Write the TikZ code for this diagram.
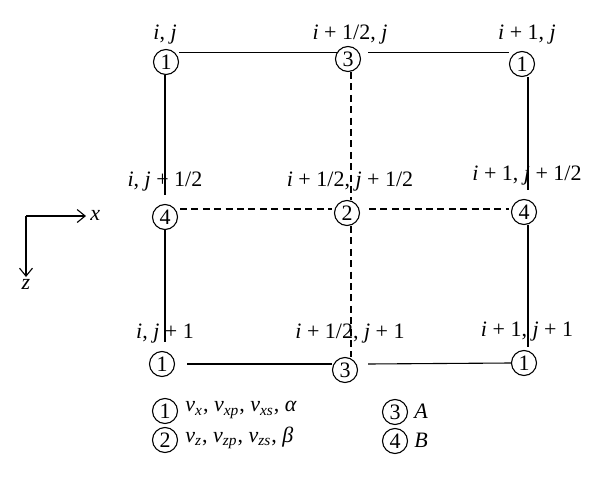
\documentclass[tikz,border=0pt]{standalone}
\usepackage{fontspec}
\setmainfont{Liberation Serif}
\usetikzlibrary{calc,arrows.meta}
\newcommand\mi[1]{\textit{#1}}
\newcommand\sbi[1]{\textsubscript{\textit{#1}}}
\begin{document}
\begin{tikzpicture}[x=0.5pt,y=-0.5pt,
  gp/.style={circle,draw,line width=0.55pt,minimum size=12.5pt,inner sep=0pt,font=\fontsize{11}{13}\selectfont},
  lbl/.style={inner sep=0pt,font=\fontsize{11}{13}\selectfont},
  ln/.style={line width=0.55pt},
  dsh/.style={line width=0.55pt,dash pattern=on 3.5pt off 2.2pt},
  ax/.style={line width=0.55pt,-{Straight Barb[length=4pt,width=6.5pt]}}]
\useasboundingbox (0,0) rectangle (600,487);
% grid points
\node[gp] (t1)  at (166,62)  {1};
\node[gp] (t3)  at (348,59)  {3};
\node[gp] (t1r) at (522,64)  {1};
\node[gp] (m4)  at (165,217) {4};
\node[gp] (m2)  at (347,213) {2};
\node[gp] (m4r) at (524,212) {4};
\node[gp] (b1)  at (162,364) {1};
\node[gp] (b3)  at (345,370) {3};
\node[gp] (b1r) at (524,363) {1};
% labels
\node[lbl] (l1) at (165,35) {\mi{i}, \mi{j}};
\node[lbl] (l2) at (350,35) {\mi{i} + 1/2, \mi{j}};
\node[lbl] (l3) at (527,35) {\mi{i} + 1, \mi{j}};
\node[lbl] (l4) at (165,182) {\mi{i}, \mi{j} + 1/2};
\node[lbl] (l5) at (350,182) {\mi{i} + 1/2, \mi{j} + 1/2};
\node[lbl] (l6) at (527,176) {\mi{i} + 1, \mi{j} + 1/2};
\node[lbl] (l7) at (165,334) {\mi{i}, \mi{j} + 1};
\node[lbl] (l8) at (350,334) {\mi{i} + 1/2, \mi{j} + 1};
\node[lbl] (l9) at (527,332) {\mi{i} + 1, \mi{j} + 1};
% top solid lines
\draw[ln] (t1.east |- t3.151) -- (t3.151);
\draw[ln] ($(t3.29)+(9,0)$) -- (t3.29 -| t1r.west);
% bottom solid lines
\draw[ln] ($(b1.east)+(12,0)$) -- (b3.west |- b1.east);
\draw[ln] ($(b3.east |- b1.east)+(10,0)$) -- (b1r.west);
% left vertical
\coordinate (lv1) at (165,195);
\coordinate (lv2) at (165,342);
\draw[ln] (t1.south -| lv1) -- (lv1);
\draw[ln] (m4.south) -- (lv2);
% right vertical
\coordinate (rv0) at (528,77);
\coordinate (rv1) at (528,190);
\coordinate (rv2) at (528,347);
\draw[ln] (rv0) -- (rv1);
\draw[ln] (m4r.south -| rv2) -- (rv2);
% middle dashed vertical
\coordinate (dv0) at (351,72);
\draw[dsh] (dv0) -- (dv0 |- m2.north);
\draw[dsh] (dv0 |- m2.south) -- (dv0 |- b3.north);
% middle dashed horizontal
\coordinate (dh0) at (180,209);
\coordinate (dh1) at (332,209);
\coordinate (dh2) at (369,209);
\coordinate (dh3) at (509,209);
\draw[dsh] (dh0) -- (dh1);
\draw[dsh] (dh2) -- (dh3);
% axes
\coordinate (o) at (26,216);
\node[lbl,anchor=west] (xl) at (90,215) {\mi{x}};
\node[lbl,anchor=north] (zl) at (26,279) {\mi{z}};
\draw[ax] (o) -- (86,216);
\draw[ax] (o) -- (26,277);
% legend
\node[gp] (g1) at (165,411) {1};
\node[gp] (g2) at (165,440) {2};
\node[gp] (g3) at (395,412) {3};
\node[gp] (g4) at (395,441) {4};
\node[lbl,anchor=west] (g1t) at (185,410) {\mi{v}\sbi{x}, \mi{v}\sbi{xp}, \mi{v}\sbi{xs}, \mi{α}};
\node[lbl,anchor=west] (g2t) at (185,438) {\mi{v}\sbi{z}, \mi{v}\sbi{zp}, \mi{v}\sbi{zs}, \mi{β}};
\node[lbl,anchor=west] (g3t) at (414,411) {\mi{A}};
\node[lbl,anchor=west] (g4t) at (414,440) {\mi{B}};
\end{tikzpicture}
\end{document}
